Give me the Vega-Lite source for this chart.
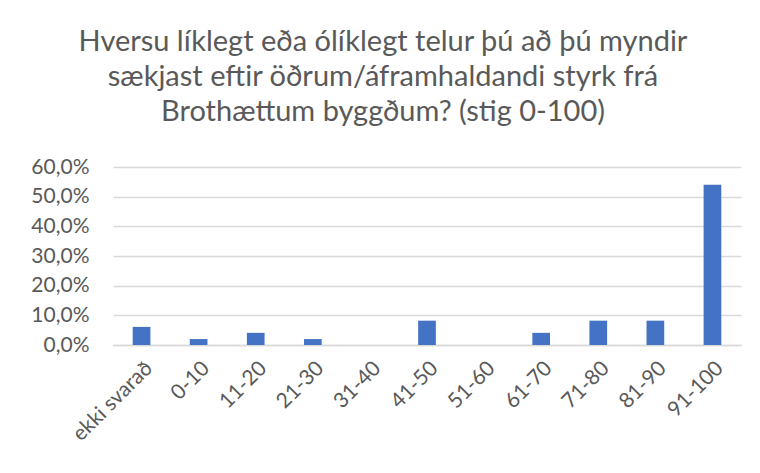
{
  "$schema": "https://vega.github.io/schema/vega-lite/v6.json",
  "autosize": "none",
  "width": 628,
  "height": 178,
  "padding": {"left": 113, "top": 167, "right": 19, "bottom": 128},
  "background": "white",
  "title": {
    "text": ["Hversu líklegt eða ólíklegt telur þú að þú myndir", "sækjast eftir öðrum/áframhaldandi styrk frá", "Brothættum byggðum? (stig 0-100)"],
    "anchor": "middle",
    "dx": -44,
    "offset": 29,
    "font": "Lato",
    "fontSize": 29,
    "fontWeight": "normal",
    "color": "#595959",
    "lineHeight": 35
  },
  "data": {
    "values": [
      {"flokkur": "ekki svarað", "hlutfall": 0.061},
      {"flokkur": "0-10", "hlutfall": 0.020},
      {"flokkur": "11-20", "hlutfall": 0.041},
      {"flokkur": "21-30", "hlutfall": 0.020},
      {"flokkur": "31-40", "hlutfall": 0.0},
      {"flokkur": "41-50", "hlutfall": 0.082},
      {"flokkur": "51-60", "hlutfall": 0.0},
      {"flokkur": "61-70", "hlutfall": 0.041},
      {"flokkur": "71-80", "hlutfall": 0.082},
      {"flokkur": "81-90", "hlutfall": 0.082},
      {"flokkur": "91-100", "hlutfall": 0.540}
    ]
  },
  "mark": {"type": "bar", "color": "#4472C4"},
  "encoding": {
    "x": {
      "field": "flokkur",
      "type": "nominal",
      "sort": null,
      "scale": {"paddingInner": 0.69, "paddingOuter": 0.345},
      "axis": {
        "title": null,
        "labelAngle": -45,
        "labelFont": "Lato",
        "labelFontSize": 21,
        "labelColor": "#595959",
        "labelPadding": 12,
        "ticks": false,
        "domainColor": "#d9d9d9",
        "domainWidth": 1.5,
        "grid": false
      }
    },
    "y": {
      "field": "hlutfall",
      "type": "quantitative",
      "scale": {"domain": [0, 0.6]},
      "axis": {
        "title": null,
        "values": [0, 0.1, 0.2, 0.3, 0.4, 0.5, 0.6],
        "labelExpr": "replace(format(datum.value, '.1%'), '.', ',')",
        "labelFont": "Lato",
        "labelFontSize": 21,
        "labelColor": "#595959",
        "labelPadding": 24,
        "ticks": false,
        "domain": false,
        "gridColor": "#d9d9d9",
        "gridWidth": 1.5
      }
    }
  },
  "config": {"view": {"stroke": null}}
}
